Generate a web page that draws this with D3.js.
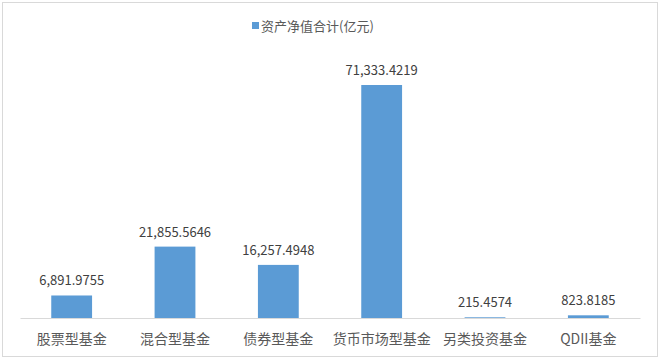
<!DOCTYPE html>
<html><head><meta charset="utf-8">
<script src="https://cdn.jsdelivr.net/npm/d3@7"></script>
<style>body{margin:0;background:#fff}svg{display:block}</style>
</head><body>
<script>
const categories = ["股票型基金","混合型基金","债券型基金","货币市场型基金","另类投资基金","QDII基金"];
const values = [6891.9755, 21855.5646, 16257.4948, 71333.4219, 215.4574, 823.8185];
const valueLabels = ["6,891.9755","21,855.5646","16,257.4948","71,333.4219","215.4574","823.8185"];
const seriesName = "资产净值合计(亿元)";

const W = 661, H = 360;
const font = "'Noto Sans CJK SC','Noto Sans',sans-serif";
const svg = d3.select("body").append("svg").attr("width", W).attr("height", H);
svg.append("rect").attr("x",2.5).attr("y",2.5).attr("width",655).attr("height",354)
  .attr("fill","#fff").attr("stroke","#d9d9d9");

const x = d3.scaleBand().domain(categories).range([20,640]).paddingInner(0.605).paddingOuter(0.3025);
const y = d3.scaleLinear().domain([0,80000]).range([318,56.7]);

svg.selectAll("rect.bar").data(values).join("rect").attr("class","bar")
  .attr("x",(d,i)=>x(categories[i])).attr("width",x.bandwidth())
  .attr("y",d=>y(d)).attr("height",d=>y(0)-y(d)).attr("fill","#5B9BD5");

const ax = svg.append("g").attr("transform","translate(0,318)").call(d3.axisBottom(x).tickSize(0).tickPadding(16));
ax.select(".domain").attr("stroke","#d9d9d9");
ax.selectAll("text").attr("font-family",font).attr("font-size",14).attr("fill","#595959");

svg.selectAll("text.val").data(values).join("text").attr("class","val")
  .attr("x",(d,i)=>x(categories[i])+x.bandwidth()/2).attr("y",d=>y(d)-10)
  .attr("text-anchor","middle").attr("font-family",font).attr("font-size",13).attr("fill","#404040")
  .text((d,i)=>valueLabels[i]);

const lg = svg.append("g");
lg.append("rect").attr("x",252).attr("y",22).attr("width",7).attr("height",7).attr("fill","#5B9BD5");
lg.append("text").attr("x",261).attr("y",30.5).attr("font-family",font).attr("font-size",13).attr("fill","#595959").text(seriesName);
</script>
</body></html>
